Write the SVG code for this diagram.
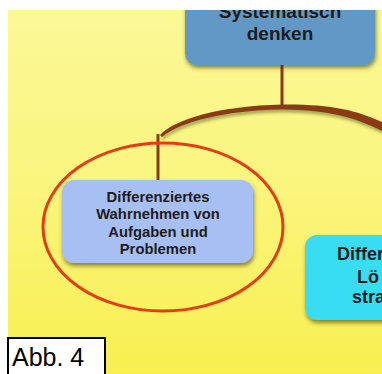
<svg xmlns="http://www.w3.org/2000/svg" width="382" height="374" viewBox="0 0 382 374">
<defs>
<linearGradient id="bg" x1="0" y1="0" x2="0" y2="1">
<stop offset="0" stop-color="#fbf897"/>
<stop offset="0.5" stop-color="#faf57c"/>
<stop offset="1" stop-color="#f8ef4f"/>
</linearGradient>
<filter id="sh" x="-20%" y="-20%" width="140%" height="150%">
<feDropShadow dx="1" dy="3" stdDeviation="2" flood-color="#3a3a10" flood-opacity="0.6"/>
</filter>
<filter id="lsh" x="-10%" y="-50%" width="120%" height="200%">
<feDropShadow dx="1" dy="3" stdDeviation="1.5" flood-color="#556020" flood-opacity="0.5"/>
</filter>
<clipPath id="area"><rect x="8" y="10" width="374" height="364"/></clipPath>
</defs>
<style>
.node text{font-family:"Liberation Sans",Arial,sans-serif;font-weight:bold;fill:#1c1c1c;text-anchor:middle}
.stem{stroke:#8a3a18;stroke-width:3;fill:none}
</style>
<rect width="382" height="374" fill="#ffffff"/>
<rect x="8" y="10" width="374" height="364" fill="url(#bg)"/>
<g clip-path="url(#area)">
<g id="connectors">
<line class="stem" x1="282" y1="64" x2="282" y2="108"/>
<path d="M160,135 C175,119 220,106 282,104.5 C330,104 356,110 382,122 L382,131 C356,118 330,110 282,109.5 C226,110.5 182,121 162,137 Z" fill="#8a3a18" filter="url(#lsh)"/>
<line class="stem" x1="158" y1="134" x2="158" y2="181"/>
</g>
<g id="node-systematisch" class="node">
<rect x="185" y="-20" width="190" height="85" rx="12" fill="#6298c6" filter="url(#sh)"/>
<text x="280" y="18" font-size="19">Systematisch</text>
<text x="280" y="40" font-size="19">denken</text>
</g>
<g id="node-wahrnehmen" class="node">
<rect x="62" y="180" width="191" height="83" rx="12" fill="#a7bff3" filter="url(#sh)"/>
<text x="158" y="202" font-size="14.8">Differenziertes</text>
<text x="158" y="219" font-size="14.8">Wahrnehmen von</text>
<text x="158" y="237" font-size="14.8">Aufgaben und</text>
<text x="158" y="254" font-size="14.8">Problemen</text>
</g>
<g id="node-loesung" class="node">
<rect x="305" y="235" width="110" height="85" rx="12" fill="#38dcf3" filter="url(#sh)"/>
<text x="337" y="260" font-size="18" style="text-anchor:start">Differ</text>
<text x="357" y="283" font-size="18" style="text-anchor:start">Lö</text>
<text x="352" y="303" font-size="18" style="text-anchor:start">stra</text>
</g>
<g id="highlight">
<ellipse cx="163" cy="227" rx="120" ry="84" fill="none" stroke="#e63c14" stroke-width="3"/>
</g>
</g>
<g id="label">
<rect x="8" y="338" width="97" height="40" fill="#ffffff" stroke="#000000" stroke-width="2"/>
<text x="12" y="366" font-family="Liberation Sans,Arial,sans-serif" font-size="25" fill="#000">Abb. 4</text>
</g>
</svg>
